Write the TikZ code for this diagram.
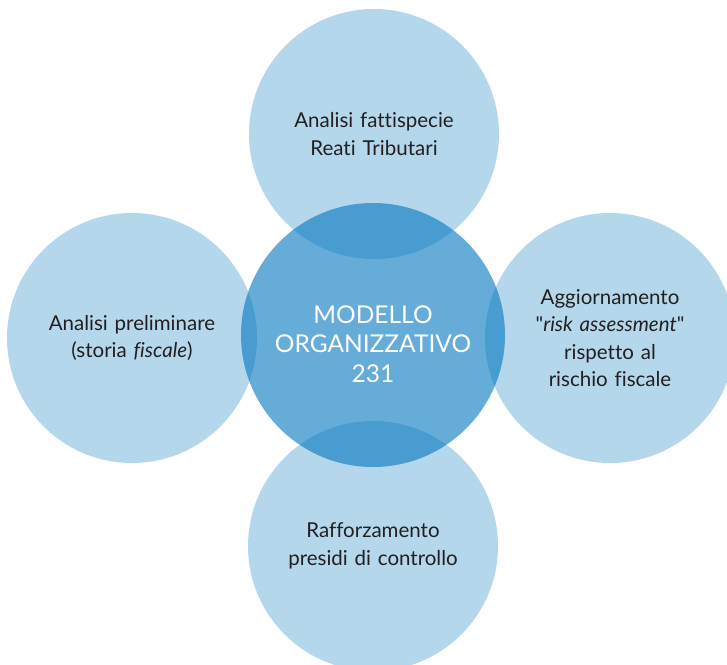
\documentclass[tikz,border=0pt]{standalone}
\usepackage{fontspec}
\setmainfont{Lato}[Ligatures=NoCommon]
\usetikzlibrary{positioning}

\definecolor{phaseblue}{RGB}{180,215,236}
\definecolor{coreblue}{RGB}{0,117,190}
\definecolor{darktext}{RGB}{35,31,32}

\begin{document}
\begin{tikzpicture}[x=1pt, y=-1pt,
    phase/.style={circle, fill=phaseblue, minimum size=250pt, inner sep=0pt,
        text width=200pt, align=center, text=darktext,
        font=\fontsize{20.5}{27.5}\selectfont},
    core/.style={circle, fill=coreblue, fill opacity=0.6,
        minimum size=264pt, inner sep=0pt},
    coretext/.style={text width=240pt, align=center, inner sep=0pt,
        text=white, font=\fontsize{24.5}{29.5}\selectfont}
]
\useasboundingbox (0,0) rectangle (727,664);

\node (Fattispecie) [phase] at (374,134) {Analisi fattispecie\\Reati Tributari};
\node (Preliminare) [phase] at (132,338) {Analisi preliminare\\(storia \textit{fiscale})};
\node (Aggiornamento) [phase] at (610,338) {Aggiornamento\\\textquotedbl\textit{risk assessment}\textquotedbl\\rispetto al\\rischio fiscale};
\node (Rafforzamento) [phase] at (373,546) {Rafforzamento\\presidi di controllo};

\node (Modello) [core, label={[coretext, yshift=-9pt]center:{MODELLO\\ORGANIZZATIVO\\231}}] at (373,335) {};

\end{tikzpicture}
\end{document}
